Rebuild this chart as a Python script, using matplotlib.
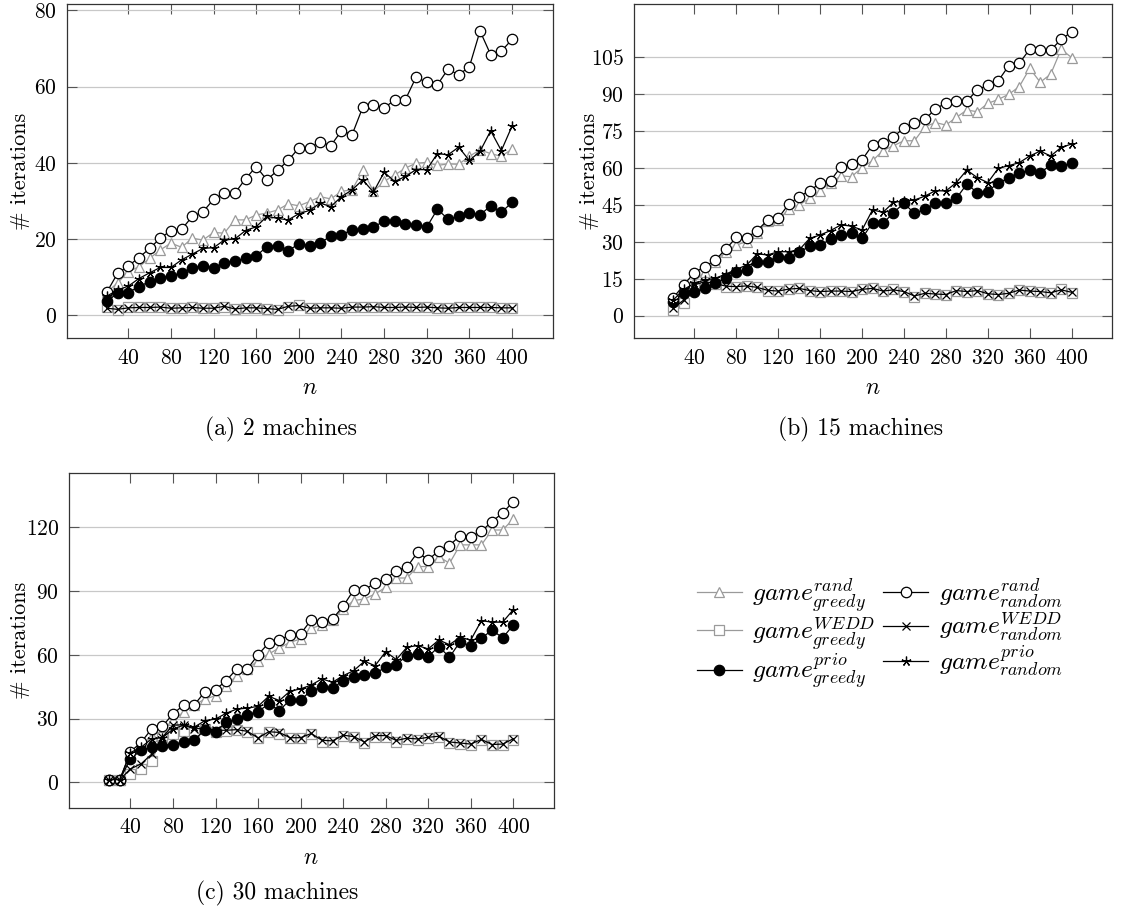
import matplotlib
matplotlib.use("Agg")
import matplotlib.pyplot as plt

plt.rcParams['font.family'] = 'cmr10'
plt.rcParams['mathtext.fontset'] = 'cm'
plt.rcParams['axes.formatter.use_mathtext'] = True
plt.rcParams['axes.unicode_minus'] = False

# problem size n (x values)
n_vals = [20, 30, 40, 50, 60, 70, 80, 90, 100, 110, 120, 130, 140, 150, 160, 170, 180,
          190, 200, 210, 220, 230, 240, 250, 260, 270, 280, 290, 300, 310, 320, 330, 340,
          350, 360, 370, 380, 390, 400]
x_ticks = [40, 80, 120, 160, 200, 240, 280, 320, 360, 400]

# (a) 2 machines
a_rand_greedy = [6.0, 8.5, 11.4, 12.7, 14.9, 17.1, 18.9, 17.8, 20.2, 19.7, 21.7, 21.5, 25.0,
                 25.0, 26.3, 26.8, 27.6, 29.2, 28.7, 29.8, 31.1, 30.5, 32.5, 32.9, 38.0, 32.5,
                 35.1, 36.8, 38.6, 39.9, 40.1, 39.3, 39.7, 39.6, 41.7, 43.4, 42.4, 41.7, 43.6]
a_wedd_greedy = [2.0, 1.4, 2.0, 2.0, 2.1, 2.1, 1.8, 1.9, 2.0, 1.8, 1.8, 2.2, 1.5, 1.9, 1.9,
                 1.7, 1.4, 2.2, 2.6, 1.8, 1.9, 1.9, 1.8, 2.1, 2.1, 2.2, 2.0, 2.0, 2.1, 2.0,
                 2.0, 1.9, 1.8, 2.0, 2.0, 2.0, 2.0, 1.9, 1.9]
a_prio_greedy = [3.7, 5.7, 5.9, 7.5, 8.8, 9.8, 10.3, 11.1, 12.3, 13.0, 12.3, 13.8, 14.2, 14.9,
                 15.5, 18.0, 18.2, 16.9, 18.7, 18.2, 18.9, 20.8, 21.1, 22.4, 22.5, 23.2, 24.6,
                 24.6, 23.9, 23.7, 23.1, 27.8, 25.2, 25.9, 26.9, 26.3, 28.7, 27.0, 29.6]
a_rand_random = [6.1, 11.0, 12.9, 15.1, 17.5, 20.2, 22.2, 22.5, 25.9, 27.1, 30.4, 32.0, 32.0,
                 35.8, 39.0, 35.5, 38.0, 40.6, 43.9, 44.0, 45.4, 44.5, 48.4, 47.4, 54.6, 55.3,
                 54.4, 56.5, 56.6, 62.5, 61.1, 60.5, 64.6, 63.1, 65.2, 74.6, 68.4, 69.3, 72.4]
a_wedd_random = [1.8, 1.5, 1.9, 2.0, 2.0, 2.1, 1.8, 1.9, 2.0, 1.8, 1.8, 2.3, 1.6, 1.9, 1.9,
                 1.7, 1.5, 2.3, 2.5, 1.8, 1.9, 1.9, 1.8, 2.1, 2.1, 2.2, 2.0, 2.0, 2.1, 2.0,
                 2.1, 1.9, 1.8, 2.0, 2.0, 2.0, 2.0, 1.9, 1.9]
a_prio_random = [5.0, 6.6, 7.6, 9.6, 11.1, 12.5, 12.5, 14.5, 16.0, 17.5, 17.7, 19.7, 20.0,
                 22.2, 23.2, 25.9, 25.4, 25.0, 26.6, 27.5, 29.4, 28.5, 31.1, 32.9, 35.5, 32.3,
                 37.5, 35.1, 36.4, 38.2, 38.2, 42.4, 42.1, 44.1, 40.6, 43.0, 48.4, 43.2, 49.6]

# (b) 15 machines
b_rand_greedy = [5.0, 10.4, 13.8, 17.9, 22.0, 26.0, 28.7, 30.1, 33.5, 38.5, 38.9, 43.2, 45.0,
                 47.7, 50.8, 54.1, 56.8, 56.5, 60.2, 63.0, 67.1, 69.1, 71.1, 71.1, 76.8, 78.5,
                 77.5, 80.6, 83.6, 82.9, 86.3, 87.9, 90.0, 93.1, 100.5, 94.9, 98.2, 108.3, 104.9]
b_wedd_greedy = [2.3, 5.0, 11.1, 12.5, 12.9, 11.5, 11.8, 12.1, 11.5, 10.0, 10.0, 10.8, 11.1,
                 10.0, 9.6, 10.0, 10.0, 9.8, 10.7, 11.1, 10.0, 10.7, 9.8, 7.7, 9.1, 8.8, 8.4,
                 10.0, 9.8, 10.2, 8.8, 8.4, 9.1, 10.4, 10.0, 9.8, 9.1, 10.7, 9.3]
b_prio_greedy = [5.7, 9.1, 9.8, 11.1, 13.1, 15.2, 17.6, 18.6, 22.0, 22.0, 24.0, 23.6, 25.7,
                 28.3, 28.7, 31.0, 32.8, 33.5, 31.4, 37.8, 37.5, 41.9, 45.7, 41.6, 43.2, 45.7,
                 45.9, 47.7, 53.5, 50.0, 50.4, 54.1, 55.8, 57.9, 59.2, 58.1, 61.2, 61.0, 61.9]
b_rand_random = [7.3, 12.5, 17.5, 19.9, 22.6, 27.0, 31.8, 31.7, 34.6, 38.9, 39.6, 45.3, 48.4,
                 50.8, 53.8, 54.9, 60.6, 61.5, 63.3, 69.4, 70.1, 72.8, 76.2, 78.5, 79.9, 83.9,
                 86.6, 87.4, 87.3, 91.7, 93.8, 95.5, 101.6, 102.6, 108.3, 108.0, 108.0, 112.3, 115.4]
b_wedd_random = [3.0, 6.4, 12.5, 13.8, 13.1, 12.0, 11.8, 12.1, 11.5, 10.3, 10.0, 10.8, 11.1,
                 10.2, 9.8, 10.0, 10.0, 9.8, 10.7, 11.1, 10.0, 10.5, 9.8, 8.0, 9.1, 8.8, 8.6,
                 10.2, 9.8, 10.2, 8.9, 8.6, 9.1, 10.4, 10.0, 9.8, 9.3, 10.5, 9.5]
b_prio_random = [6.4, 10.7, 13.1, 14.5, 15.2, 16.9, 18.8, 20.6, 25.1, 24.7, 26.0, 26.0, 26.7,
                 31.4, 32.8, 34.6, 36.9, 36.4, 34.8, 43.0, 42.0, 46.1, 46.6, 47.0, 48.6, 50.8,
                 50.7, 54.1, 59.2, 56.1, 54.1, 59.9, 61.0, 62.2, 64.9, 66.9, 64.9, 68.4, 69.8]

# (c) 30 machines
c_rand_greedy = [1.3, 1.3, 12.0, 17.0, 22.0, 24.3, 29.4, 33.0, 36.4, 39.2, 40.8, 45.5, 50.2,
                 53.4, 57.3, 60.4, 63.3, 65.9, 67.5, 72.5, 74.1, 76.5, 81.6, 85.6, 86.3, 88.7,
                 91.8, 96.2, 96.2, 101.6, 101.6, 106.3, 103.1, 111.8, 111.8, 111.8, 118.8, 118.8, 124.0]
c_wedd_greedy = [1.3, 1.3, 4.0, 6.3, 10.2, 21.5, 22.8, 24.3, 24.0, 25.1, 23.9, 24.3, 24.6,
                 23.9, 20.7, 23.5, 22.8, 20.7, 20.7, 22.8, 19.2, 18.8, 22.0, 21.2, 18.5, 21.5,
                 21.5, 19.2, 20.4, 20.1, 20.9, 21.2, 18.5, 18.1, 17.6, 19.9, 17.6, 17.6, 20.1]
c_prio_greedy = [1.3, 1.3, 11.0, 15.2, 16.5, 17.3, 17.6, 19.2, 20.1, 24.6, 23.9, 28.3, 29.8,
                 31.9, 33.3, 36.9, 33.8, 38.8, 38.8, 43.2, 44.7, 44.4, 47.9, 49.8, 50.7, 51.3,
                 54.2, 55.4, 59.7, 60.4, 59.2, 63.9, 58.9, 66.2, 64.1, 67.8, 71.7, 68.0, 74.1]
c_rand_random = [1.3, 1.3, 14.4, 18.8, 25.2, 26.4, 32.2, 36.4, 36.4, 42.7, 43.6, 47.9, 53.4,
                 53.4, 60.1, 65.6, 67.0, 69.4, 69.9, 76.5, 75.7, 76.9, 82.9, 90.6, 90.6, 93.9,
                 95.8, 99.7, 101.3, 108.3, 104.7, 109.1, 111.5, 116.2, 115.7, 118.2, 122.8, 126.8, 132.2]
c_wedd_random = [1.3, 1.3, 6.3, 8.7, 13.3, 21.2, 27.0, 27.0, 25.1, 25.6, 24.5, 24.5, 24.8,
                 24.0, 20.9, 23.8, 23.5, 21.0, 21.0, 23.0, 19.8, 19.5, 22.2, 21.5, 19.0, 22.0,
                 22.0, 19.7, 20.8, 20.4, 21.2, 21.7, 19.0, 18.5, 18.0, 20.2, 17.8, 18.0, 20.5]
c_prio_random = [1.3, 1.3, 14.0, 16.5, 20.5, 21.0, 25.0, 27.0, 26.0, 29.0, 29.8, 32.5, 34.5,
                 34.9, 35.8, 40.5, 38.5, 42.9, 44.0, 45.8, 48.7, 47.1, 50.2, 52.6, 57.0, 54.9,
                 61.5, 57.8, 63.6, 64.4, 62.8, 67.0, 64.8, 68.3, 67.0, 76.1, 75.4, 75.4, 81.3]

labels = [r'$game^{rand}_{greedy}$', r'$game^{WEDD}_{greedy}$', r'$game^{prio}_{greedy}$',
          r'$game^{rand}_{random}$', r'$game^{WEDD}_{random}$', r'$game^{prio}_{random}$']

W, H = 1121, 906
GRAY = '#9a9a9a'
fig = plt.figure(figsize=(W / 100, H / 100), dpi=100)


def rect(l, r, t, b):
    return [l / W, 1 - b / H, (r - l) / W, (b - t) / H]


def draw_panel(ax, series, yticks, ylim):
    styles = [
        dict(color=GRAY, marker='^', mfc='white', mec=GRAY, ms=6.5),
        dict(color=GRAY, marker='s', mfc='white', mec=GRAY, ms=6.5),
        dict(color='black', marker='o', mfc='black', mec='black', ms=7.5),
        dict(color='black', marker='o', mfc='white', mec='black', ms=7.5),
        dict(color='black', marker='x', ms=5.5),
        dict(color='black', marker=(5, 2, 0), ms=7),
    ]
    handles = []
    for ys, st in zip(series, styles):
        h, = ax.plot(n_vals, ys, lw=0.9, mew=0.9, **st)
        handles.append(h)
    ax.set_xlim(-18, 438)
    ax.set_ylim(*ylim)
    ax.set_xticks(x_ticks)
    ax.set_yticks(yticks)
    ax.yaxis.grid(True, color='#c8c8c8', lw=0.9)
    ax.set_axisbelow(True)
    ax.tick_params(direction='in', length=7, width=0.8, color='#555555',
                   top=True, right=True, labelsize=15.5, pad=7)
    for sp in ax.spines.values():
        sp.set_linewidth(0.9)
        sp.set_color('#333333')
    return handles


ax_a = fig.add_axes(rect(66.5, 552.5, 4, 338.3))
draw_panel(ax_a, [a_rand_greedy, a_wedd_greedy, a_prio_greedy,
                  a_rand_random, a_wedd_random, a_prio_random],
           [0, 20, 40, 60, 80], (-6.1, 81.7))

ax_b = fig.add_axes(rect(633.5, 1111.5, 4, 338.3))
draw_panel(ax_b, [b_rand_greedy, b_wedd_greedy, b_prio_greedy,
                  b_rand_random, b_wedd_random, b_prio_random],
           [0, 15, 30, 45, 60, 75, 90, 105], (-9.2, 126.7))

ax_c = fig.add_axes(rect(68.8, 553.7, 473.3, 808))
handles = draw_panel(ax_c, [c_rand_greedy, c_wedd_greedy, c_prio_greedy,
                            c_rand_random, c_wedd_random, c_prio_random],
                     [0, 30, 60, 90, 120], (-12.1, 145.5))


def ftext(x, y, s, **kw):
    fig.text(x / W, 1 - y / H, s, ha='center', va='center', **kw)


ftext(20, 171, '# iterations', rotation=90, fontsize=16)
ftext(589, 171, '# iterations', rotation=90, fontsize=16, zorder=-1)
ftext(20, 640, '# iterations', rotation=90, fontsize=16)

ftext(309.5, 388, '$n$', fontsize=17)
ftext(872.5, 388, '$n$', fontsize=17)
ftext(311, 858, '$n$', fontsize=17)

ftext(281, 429.5, '(a) 2 machines', fontsize=17)
ftext(860, 429.5, '(b) 15 machines', fontsize=17)
ftext(277, 893, '(c) 30 machines', fontsize=17)

fig.legend(handles, labels, ncol=2, loc='upper left',
           bbox_to_anchor=(697 / W, 1 - 576 / H), frameon=False, fontsize=18.5,
           handlelength=1.75, handletextpad=0.4, columnspacing=0.3,
           labelspacing=0.0, borderpad=0, borderaxespad=0)

fig.savefig('out.png', dpi=100)
